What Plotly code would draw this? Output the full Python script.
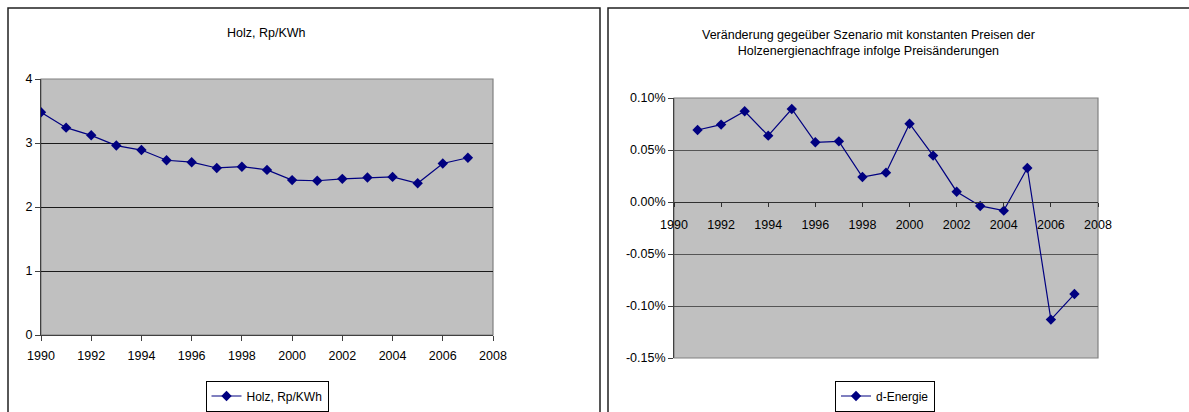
import plotly.graph_objects as go

# Holzpreis (Rp/KWh) je Jahr
years_price = [1990, 1991, 1992, 1993, 1994, 1995, 1996, 1997, 1998,
               1999, 2000, 2001, 2002, 2003, 2004, 2005, 2006, 2007]
price_holz = [3.48, 3.24, 3.12, 2.96, 2.89, 2.73, 2.70, 2.61, 2.63,
              2.58, 2.42, 2.41, 2.44, 2.46, 2.47, 2.37, 2.68, 2.77]

# Veränderung der Holzenergienachfrage (Anteil, als % formatiert)
years_delta = [1991, 1992, 1993, 1994, 1995, 1996, 1997, 1998, 1999,
               2000, 2001, 2002, 2003, 2004, 2005, 2006, 2007]
d_energie = [0.000692, 0.000744, 0.000872, 0.000638, 0.000894, 0.000574,
             0.000583, 0.000240, 0.000282, 0.000753, 0.000446, 0.000099,
             -0.000038, -0.000083, 0.000327, -0.001131, -0.000885]

x_ticks = [1990, 1992, 1994, 1996, 1998, 2000, 2002, 2004, 2006, 2008]
y_ticks_left = [0, 1, 2, 3, 4]
y_ticks_right = [-0.0015, -0.0010, -0.0005, 0.0, 0.0005, 0.0010]

W, H = 1189, 412
FONT = "Liberation Sans, Arial, sans-serif"
NAVY = "#000080"
BG = "#C0C0C0"


def px_x(p):
    return p / W


def px_y(p):
    return 1 - p / H


left_dom_x = [px_x(41), px_x(493)]
left_dom_y = [px_y(335), px_y(79)]
right_dom_x = [px_x(674), px_x(1098)]
right_dom_y = [px_y(358), px_y(98)]

r_lo, r_hi = -0.0015, 0.0010
zero_pos = right_dom_y[0] + (0 - r_lo) / (r_hi - r_lo) * (right_dom_y[1] - right_dom_y[0])

fig = go.Figure()

fig.add_trace(go.Scatter(
    x=years_price, y=price_holz, mode="lines+markers",
    name="Holz, Rp/KWh", xaxis="x", yaxis="y", legend="legend",
    line=dict(color=NAVY, width=1.2),
    marker=dict(symbol="diamond", size=8, color=NAVY),
))

fig.add_trace(go.Scatter(
    x=years_delta, y=d_energie, mode="lines+markers",
    name="d-Energie", xaxis="x2", yaxis="y2", legend="legend2",
    line=dict(color=NAVY, width=1.2),
    marker=dict(symbol="diamond", size=8, color=NAVY),
))

axis_font = dict(family=FONT, size=12.5, color="#000000")

fig.update_layout(
    template="none",
    width=W, height=H,
    margin=dict(l=0, r=0, t=0, b=0, autoexpand=False),
    paper_bgcolor="white",
    plot_bgcolor=BG,
    font=dict(family=FONT, size=12, color="#000000"),
    xaxis=dict(
        domain=left_dom_x, anchor="y", range=[1990, 2008], automargin=False,
        tickmode="array", tickvals=x_ticks, ticktext=[str(v) for v in x_ticks],
        ticks="outside", ticklen=5, tickcolor="#404040", tickwidth=1,
        ticklabelstandoff=4,
        showline=True, linecolor="#404040", linewidth=1,
        showgrid=False, zeroline=False, tickfont=axis_font,
    ),
    yaxis=dict(
        domain=left_dom_y, anchor="x", range=[0, 4], automargin=False,
        tickmode="array", tickvals=y_ticks_left, ticktext=[str(v) for v in y_ticks_left],
        ticks="outside", ticklen=5, tickcolor="#404040", tickwidth=1,
        showline=True, linecolor="#404040", linewidth=1,
        showgrid=True, gridcolor="#1a1a1a", gridwidth=1,
        zeroline=False, tickfont=axis_font,
    ),
    xaxis2=dict(
        domain=right_dom_x, anchor="free", position=zero_pos, range=[1990, 2008],
        automargin=False,
        tickmode="array", tickvals=x_ticks, ticktext=[str(v) for v in x_ticks],
        ticks="outside", ticklen=4, tickcolor="#303030", tickwidth=1,
        ticklabelstandoff=7,
        showline=True, linecolor="#303030", linewidth=1,
        showgrid=False, zeroline=False, tickfont=axis_font,
    ),
    yaxis2=dict(
        domain=right_dom_y, anchor="x2", range=[r_lo, r_hi], automargin=False,
        tickmode="array", tickvals=y_ticks_right,
        ticktext=[f"{v * 100:.2f}%" for v in y_ticks_right],
        ticks="outside", ticklen=5, tickcolor="#404040", tickwidth=1,
        showline=True, linecolor="#404040", linewidth=1,
        showgrid=True, gridcolor="#555555", gridwidth=1,
        zeroline=False, tickfont=axis_font,
    ),
    legend=dict(
        x=px_x(267), y=px_y(396), xanchor="center", yanchor="middle",
        bgcolor="white", bordercolor="#000000", borderwidth=1,
        font=dict(family=FONT, size=12), itemwidth=30,
    ),
    legend2=dict(
        x=px_x(885), y=px_y(396), xanchor="center", yanchor="middle",
        bgcolor="white", bordercolor="#000000", borderwidth=1,
        font=dict(family=FONT, size=12), itemwidth=30,
    ),
    showlegend=True,
)

# Chart frames around each panel
fig.add_shape(type="rect", xref="paper", yref="paper",
              x0=px_x(8), x1=px_x(600), y0=px_y(430), y1=px_y(8),
              line=dict(color="#202020", width=1.5), layer="below")
fig.add_shape(type="rect", xref="paper", yref="paper",
              x0=px_x(608), x1=px_x(1200), y0=px_y(430), y1=px_y(8),
              line=dict(color="#202020", width=1.5), layer="below")

# Plot-area borders
fig.add_shape(type="rect", xref="x domain", yref="y domain",
              x0=0, x1=1, y0=0, y1=1, line=dict(color="#808080", width=1.2),
              layer="below")
fig.add_shape(type="rect", xref="x2 domain", yref="y2 domain",
              x0=0, x1=1, y0=0, y1=1, line=dict(color="#808080", width=1.2),
              layer="below")

# Titles
fig.add_annotation(text="Holz, Rp/KWh", xref="paper", yref="paper",
                   x=px_x(266), y=px_y(33), showarrow=False,
                   xanchor="center", yanchor="middle",
                   font=dict(family=FONT, size=12.5))
fig.add_annotation(text="Veränderung gegeüber Szenario mit konstanten Preisen der<br>"
                        "Holzenergienachfrage infolge Preisänderungen",
                   xref="paper", yref="paper",
                   x=px_x(868), y=px_y(43), showarrow=False,
                   xanchor="center", yanchor="middle",
                   font=dict(family=FONT, size=12.5))

fig.write_html("out.html")
